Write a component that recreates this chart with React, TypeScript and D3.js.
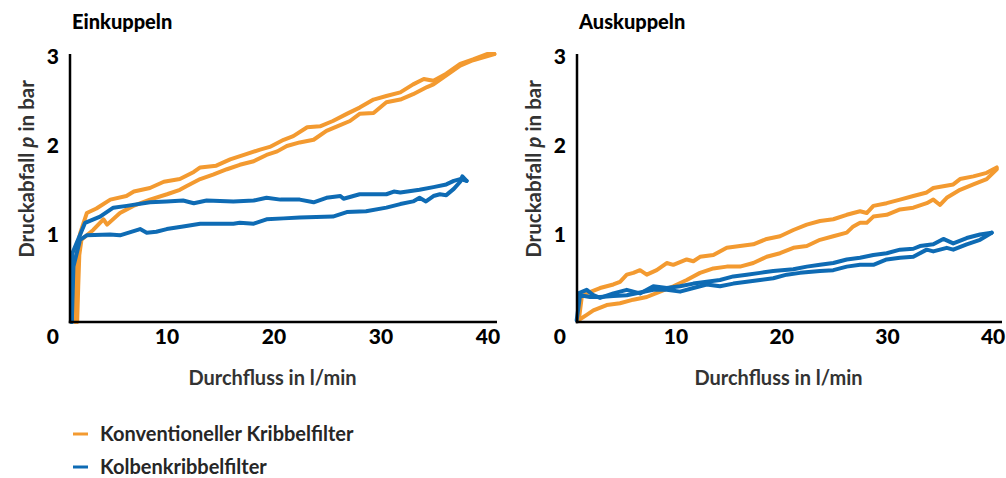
import * as d3 from 'd3';

// Durchfluss (l/min) vs. Druckabfall (bar), two loops per filter type
type Pt = [number, number];

const ORANGE = '#F39A30';
const BLUE = '#0E6BB4';

const X_TICKS = [10, 20, 30, 40];
const Y_TICKS = [1, 2, 3];

const einOrangeUp: Pt[] = [
  [1.4, 0], [1.5, 0.35], [1.45, 0.6], [1.6, 0.85], [1.9, 1.0], [2.5, 1.22], [3.4, 1.27], [4.7, 1.37],
  [6.2, 1.41], [6.9, 1.46], [8.4, 1.5], [9.7, 1.57], [11.2, 1.6], [12.5, 1.68], [13.1, 1.73], [14.6, 1.75],
  [15.9, 1.82], [17.4, 1.88], [18.7, 1.93], [19.6, 1.96], [20.9, 2.04], [21.8, 2.08], [23.1, 2.18],
  [24.3, 2.19], [25.5, 2.25], [26.8, 2.33], [28.0, 2.4], [29.3, 2.49], [30.5, 2.53], [31.8, 2.57],
  [33.0, 2.66], [34.0, 2.72], [34.9, 2.7], [36.1, 2.78], [37.4, 2.89], [38.6, 2.94], [39.9, 3.0], [40.6, 3.0],
];
const einOrangeLow: Pt[] = [
  [1.6, 0], [1.7, 0.4], [1.8, 0.75], [2.0, 0.92], [3.1, 1.03], [4.05, 1.15], [4.4, 1.09], [5.6, 1.22],
  [6.85, 1.3], [8.4, 1.37], [10.0, 1.43], [11.2, 1.48], [11.8, 1.52], [13.1, 1.6], [14.3, 1.65], [15.6, 1.71],
  [16.8, 1.76], [18.1, 1.8], [19.3, 1.87], [20.3, 1.91], [21.2, 1.97], [22.4, 2.01], [23.7, 2.04],
  [24.9, 2.14], [25.9, 2.19], [27.1, 2.25], [28.0, 2.33], [29.3, 2.34], [30.5, 2.46], [31.8, 2.49],
  [33.0, 2.55], [34.3, 2.63], [34.9, 2.66], [36.1, 2.76], [37.4, 2.87], [38.6, 2.93], [40.6, 3.0],
];
const einBlueUp: Pt[] = [
  [1.1, 0], [1.15, 0.77], [2.34, 1.11], [3.74, 1.18], [4.98, 1.28], [6.23, 1.3], [8.41, 1.34], [9.97, 1.35],
  [11.5, 1.36], [12.5, 1.33], [13.7, 1.36], [16.2, 1.35], [18.1, 1.36], [19.3, 1.39], [20.6, 1.37],
  [22.4, 1.37], [23.7, 1.34], [24.9, 1.39], [26.2, 1.41], [26.5, 1.38], [28.0, 1.43], [30.5, 1.43],
  [31.2, 1.46], [31.8, 1.45], [33.6, 1.48], [34.9, 1.51], [36.1, 1.54], [36.8, 1.58], [37.4, 1.6], [38.0, 1.58],
];
const einBlueLow: Pt[] = [
  [1.1, 0], [1.25, 0.62], [1.87, 0.92], [2.49, 0.97], [4.67, 0.98], [5.6, 0.97], [7.48, 1.04], [8.1, 1.0],
  [9.0, 1.01], [9.97, 1.04], [11.5, 1.07], [13.1, 1.1], [16.2, 1.1], [16.8, 1.11], [18.1, 1.1], [19.3, 1.15],
  [20.9, 1.16], [22.4, 1.17], [25.5, 1.18], [26.8, 1.23], [28.6, 1.24], [30.5, 1.28], [31.8, 1.32],
  [33.0, 1.35], [33.6, 1.39], [34.2, 1.35], [34.9, 1.41], [35.5, 1.43], [36.1, 1.42], [36.8, 1.49],
  [37.4, 1.57], [37.6, 1.63], [38.0, 1.58],
];

const ausOrangeUp: Pt[] = [
  [0.8, 0.02], [1.08, 0.28], [1.55, 0.32], [2.81, 0.38], [4.07, 0.42], [4.7, 0.45], [5.34, 0.53], [5.96, 0.55],
  [6.59, 0.58], [7.23, 0.53], [8.17, 0.58], [9.12, 0.66], [9.74, 0.64], [11.01, 0.7], [11.64, 0.68],
  [12.27, 0.73], [13.53, 0.75], [14.8, 0.83], [16.05, 0.85], [17.31, 0.87], [18.58, 0.93], [19.84, 0.96],
  [21.1, 1.03], [22.37, 1.09], [23.62, 1.13], [24.88, 1.15], [26.15, 1.2], [27.41, 1.24], [28.04, 1.22],
  [28.67, 1.3], [29.93, 1.33], [31.19, 1.37], [32.45, 1.41], [33.72, 1.45], [34.34, 1.5], [36.23, 1.54],
  [36.87, 1.6], [38.13, 1.63], [39.39, 1.67], [40.34, 1.73],
];
const ausOrangeLow: Pt[] = [
  [0.76, 0.02], [1.55, 0.08], [2.18, 0.13], [3.44, 0.19], [4.7, 0.21], [5.96, 0.25], [7.23, 0.28], [8.49, 0.34],
  [9.74, 0.4], [11.01, 0.47], [12.27, 0.55], [13.53, 0.6], [14.8, 0.62], [16.05, 0.62], [17.31, 0.66],
  [18.58, 0.73], [19.84, 0.77], [21.1, 0.83], [22.37, 0.85], [23.62, 0.92], [24.88, 0.96], [26.15, 1.0],
  [26.77, 1.07], [27.41, 1.11], [28.04, 1.11], [28.67, 1.18], [29.93, 1.2], [31.19, 1.26], [32.45, 1.28],
  [33.72, 1.33], [34.34, 1.37], [34.98, 1.31], [35.61, 1.39], [36.87, 1.48], [38.13, 1.54], [39.39, 1.6],
  [40.34, 1.71],
];
const ausBlueUp: Pt[] = [
  [0.76, 0.32], [1.55, 0.36], [2.18, 0.3], [2.81, 0.27], [4.07, 0.32], [5.34, 0.36], [6.59, 0.32], [7.85, 0.4],
  [9.12, 0.38], [10.38, 0.4], [11.64, 0.43], [12.9, 0.45], [14.16, 0.47], [15.42, 0.51], [16.69, 0.53],
  [17.95, 0.55], [19.2, 0.57], [21.1, 0.59], [22.37, 0.62], [23.62, 0.64], [24.88, 0.66], [26.15, 0.7],
  [27.41, 0.72], [28.67, 0.75], [29.93, 0.77], [31.19, 0.81], [32.45, 0.82], [33.08, 0.85], [34.34, 0.87],
  [35.29, 0.93], [36.23, 0.88], [37.5, 0.94], [38.76, 0.98], [39.87, 1.0],
];
const ausBlueLow: Pt[] = [
  [0.6, 0.02], [0.92, 0.3], [1.86, 0.28], [2.81, 0.28], [4.07, 0.29], [5.34, 0.3], [6.59, 0.33], [7.85, 0.36],
  [9.12, 0.36], [10.38, 0.34], [11.64, 0.38], [12.9, 0.42], [14.16, 0.4], [15.42, 0.43], [16.69, 0.45],
  [17.95, 0.47], [19.2, 0.49], [20.47, 0.53], [21.73, 0.55], [23.62, 0.57], [24.88, 0.58], [26.15, 0.62],
  [27.41, 0.64], [28.67, 0.64], [29.93, 0.7], [31.19, 0.72], [32.45, 0.73], [33.72, 0.81], [34.34, 0.79],
  [35.61, 0.83], [36.23, 0.81], [37.5, 0.87], [38.76, 0.92], [39.87, 1.0],
];

const LEGEND = [
  { label: 'Konventioneller Kribbelfilter', color: ORANGE },
  { label: 'Kolbenkribbelfilter', color: BLUE },
];

const FONT = 'Lato, "Open Sans", sans-serif';
const TOP = 54;
const BOTTOM = 322;

function Panel({ title, xDomain, xRange, series }: {
  title: string;
  xDomain: [number, number];
  xRange: [number, number];
  series: { data: Pt[]; color: string }[];
}) {
  const x = d3.scaleLinear().domain(xDomain).range(xRange);
  const y = d3.scaleLinear().domain([0, 3]).range([BOTTOM, TOP]);
  const line = d3.line<Pt>().x(d => x(d[0])).y(d => y(d[1]));
  const x0 = xRange[0];
  const labelX = x0 - 11;
  const titleCx = (x0 - 22 + xRange[1]) / 2;

  return (
    <g>
      <text x={x0 + 2} y={29} fontFamily={FONT} fontWeight={900} fontSize={20} fill="#000">{title}</text>

      {series.map((s, i) => (
        <path key={i} d={line(s.data) || ''} fill="none" stroke={s.color}
          strokeWidth={4} strokeLinejoin="round" strokeLinecap="round" />
      ))}

      {/* axes */}
      <line x1={x0} x2={x0} y1={TOP} y2={BOTTOM + 1.2} stroke="#000" strokeWidth={2.5} />
      <line x1={x0 - 1.2} x2={xRange[1]} y1={BOTTOM} y2={BOTTOM} stroke="#000" strokeWidth={2.5} />

      {Y_TICKS.map(t => (
        <text key={t} x={labelX} y={y(t) + 2} dy="0.36em" textAnchor="end"
          fontFamily={FONT} fontWeight={900} fontSize={21} fill="#000">{t}</text>
      ))}
      <text x={labelX} y={344} textAnchor="end" fontFamily={FONT} fontWeight={900} fontSize={21} fill="#000">0</text>
      {X_TICKS.map(t => (
        <text key={t} x={x(t)} y={344} textAnchor="middle"
          fontFamily={FONT} fontWeight={900} fontSize={21} fill="#000">{t}</text>
      ))}

      <text transform={`translate(${x0 - 43},${(TOP + BOTTOM) / 2 - 19}) rotate(-90)`} dy="0.36em"
        textAnchor="middle" fontFamily={FONT} fontWeight={700} fontSize={20.5} fill="#333">
        Druckabfall <tspan fontStyle="italic">p</tspan> in bar
      </text>
      <text x={titleCx} y={385} textAnchor="middle" fontFamily={FONT} fontWeight={700} fontSize={20} fill="#333">
        Durchfluss in l/min
      </text>
    </g>
  );
}

export default function App() {
  return (
    <div>
      <style>{`body { margin: 0; }`}</style>
      <svg width={1006} height={478} style={{ display: 'block', background: '#fff' }}>
        <Panel title="Einkuppeln" xDomain={[0.93, 40.84]} xRange={[70, 497]}
          series={[
            { data: einOrangeUp, color: ORANGE },
            { data: einOrangeLow, color: ORANGE },
            { data: einBlueUp, color: BLUE },
            { data: einBlueLow, color: BLUE },
          ]} />
        <Panel title="Auskuppeln" xDomain={[0.63, 40.84]} xRange={[577, 1002]}
          series={[
            { data: ausOrangeUp, color: ORANGE },
            { data: ausOrangeLow, color: ORANGE },
            { data: ausBlueUp, color: BLUE },
            { data: ausBlueLow, color: BLUE },
          ]} />

        {LEGEND.map((l, i) => (
          <g key={l.label} transform={`translate(73,${434 + i * 33})`}>
            <line x1={0} x2={15} y1={0} y2={0} stroke={l.color} strokeWidth={3} />
            <text x={27} y={0} dy="0.36em" fontFamily={FONT} fontWeight={700} fontSize={20} fill="#262626">{l.label}</text>
          </g>
        ))}
      </svg>
    </div>
  );
}
